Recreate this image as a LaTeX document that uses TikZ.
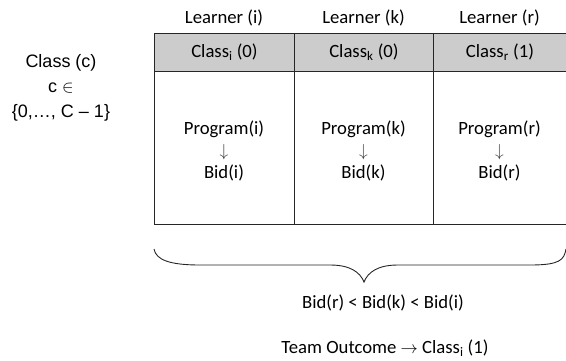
\documentclass[tikz,border=0pt]{standalone}
\usepackage{fontspec}
\setmainfont{Carlito}
\newfontfamily\arialf{Liberation Sans}
\begin{document}
\begin{tikzpicture}[x=1pt,y=-1pt,
  txt/.style={font=\fontsize{18.7}{22}\selectfont, inner sep=0pt, align=center},
  lefttxt/.style={font=\arialf\fontsize{18}{25}\selectfont, inner sep=0pt, align=center},
  cell/.style={draw=black!85, line width=0.9pt, inner sep=0pt, anchor=north west, align=center,
    font=\fontsize{18.7}{22.5}\selectfont},
  hdrcell/.style={cell, fill=black!20, minimum height=38pt},
  bodycell/.style={cell, minimum height=153pt},
  bracestyle/.style={draw=black!85, line width=0.9pt}
]
\useasboundingbox (0,0) rectangle (566,360);

% left label
\node[lefttxt] (cls) at (61,88) {Class (c)\\c $\in$\\\{0,…, C – 1\}};

% learner labels
\node[txt] (li) at (224,18) {Learner (i)};
\node[txt] (lk) at (363.5,18) {Learner (k)};
\node[txt] (lr) at (499.5,18) {Learner (r)};

% header cells
\node[hdrcell, minimum width=140pt] (hi) at (154,33) {Class\textsubscript{i} (0)};
\node[hdrcell, minimum width=139pt] (hk) at (294,33) {Class\textsubscript{k} (0)};
\node[hdrcell, minimum width=133pt] (hr) at (433,33) {Class\textsubscript{r} (1)};

% body cells
\node[bodycell, minimum width=140pt] (bi) at (154,71) {};
\node[bodycell, minimum width=139pt] (bk) at (294,71) {};
\node[bodycell, minimum width=133pt] (br) at (433,71) {};

% body texts
\node[txt] (ti) at (224,150.5) {Program(i)\\{\color{black!75}$\downarrow$}\\Bid(i)};
\node[txt] (tk) at (363.5,150.5) {Program(k)\\{\color{black!75}$\downarrow$}\\Bid(k)};
\node[txt] (tr) at (499.5,150.5) {Program(r)\\{\color{black!75}$\downarrow$}\\Bid(r)};

% brace
\coordinate (bl) at (154,249);
\coordinate (bt) at (364,282);
\coordinate (bre) at (566,249);
\draw[bracestyle] (bl) .. controls (156,260) and (170,265) .. (200,265) -- (330,265)
  .. controls (350,265) and (360,272) .. (bt)
  .. controls (368,272) and (378,265) .. (398,265) -- (530,265)
  .. controls (560,265) and (564,260) .. (bre);

% bottom texts
\node[txt] (ineq) at (383,303) {Bid(r) < Bid(k) < Bid(i)};
\node[txt] (team) at (385,348) {Team Outcome $\rightarrow$ Class\textsubscript{i} (1)};
\end{tikzpicture}
\end{document}
